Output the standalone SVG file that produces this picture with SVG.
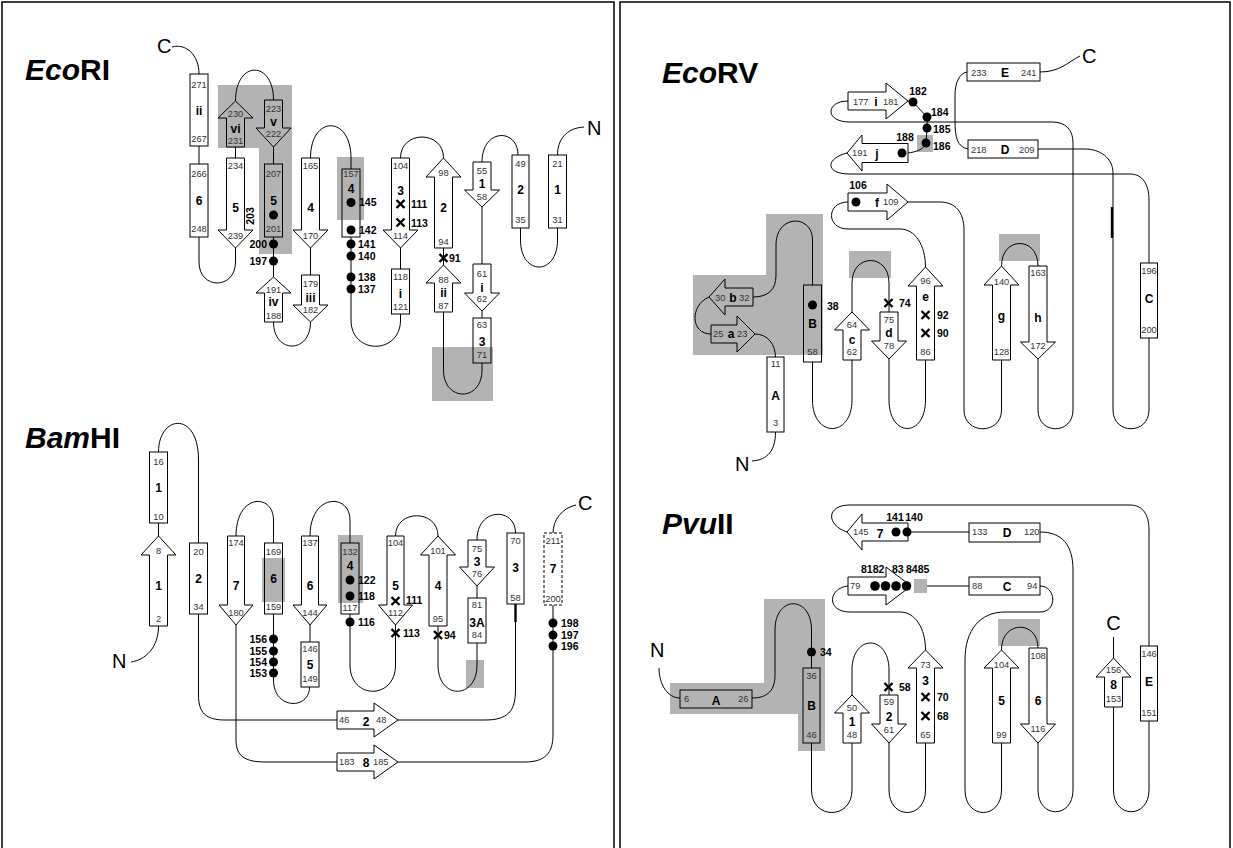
<svg xmlns="http://www.w3.org/2000/svg" xmlns:xlink="http://www.w3.org/1999/xlink" width="1233" height="848" viewBox="0 0 1233 848">
<style>
text{font-family:"Liberation Sans",Arial,sans-serif}
.n{font-size:9.3px;fill:#333;text-anchor:middle}
.ns{font-size:9.3px;fill:#333}
.s{font-size:12px;font-weight:bold;text-anchor:middle}
.r{font-size:10.5px;font-weight:bold}
.re{font-size:10.5px;font-weight:bold;text-anchor:end}
.rm{font-size:10.5px;font-weight:bold;text-anchor:middle}
.t{font-size:30px;font-weight:bold}
.big{font-size:20px}
.sh{fill:none;stroke:#000;stroke-width:1}
.dash{fill:none;stroke:#000;stroke-width:1;stroke-dasharray:3,2}
.c{fill:none;stroke:#000;stroke-width:1}
.ck{fill:none;stroke:#000;stroke-width:2.4}
.hl{fill:#b3b3b3}
.d{fill:#000}
.frame{fill:none;stroke:#000;stroke-width:1.5}
</style>
<defs>
<path id="xm" d="M-4,-4L4,4M-4,4L4,-4" stroke="#000" stroke-width="2.4" fill="none"/>
</defs>
<rect width="1233" height="848" fill="#fff"/>
<g id="frames">
<rect class="frame" x="2" y="2" width="612" height="860"/>
<rect class="frame" x="620" y="2" width="610" height="860"/>
</g>

<!-- ================= EcoRI ================= -->
<g id="ecori-highlights">
<polygon class="hl" points="218,85 292,85 292,254 259,254 259,148 218,148"/>
<rect class="hl" x="337" y="157" width="27" height="63"/>
<rect class="hl" x="432" y="347" width="61" height="54"/>
</g>
<text class="t" x="25" y="80"><tspan font-style="italic">Eco</tspan>RI</text>
<text class="big" x="157" y="53">C</text>
<text class="big" x="587" y="135">N</text>
<g id="ecori-connectors">
<path class="c" d="M172,47 C186,43 199,55 199,74"/>
<path class="c" d="M199,146 L199,164"/>
<path class="c" d="M199,237 L199,262 C199,290 235.5,290 235.5,262 L235.5,248"/>
<path class="c" d="M235.5,147 L235.5,158"/>
<path class="c" d="M235.5,101 C235.5,60 273.5,60 273.5,100"/>
<path class="c" d="M273.5,147 L273.5,164"/>
<path class="c" d="M273.5,237 L273.5,277"/>
<path class="c" d="M273.5,322 C273.5,354 310.5,354 310.5,322"/>
<path class="c" d="M310.5,248 L310.5,275"/>
<path class="c" d="M310.5,158 C310.5,115 351,115 351,158 L351,169"/>
<path class="c" d="M351,237 L351,320 C351,355 400.5,355 400.5,320 L400.5,314"/>
<path class="c" d="M400.5,248 L400.5,269"/>
<path class="c" d="M400.5,158 C400.5,130 443.5,130 443.5,158"/>
<path class="c" d="M443.5,248 L443.5,265"/>
<path class="c" d="M443.5,312 L443.5,370 C443.5,402 482,402 482,370 L482,363"/>
<path class="c" d="M482,311 L482,318"/>
<path class="c" d="M482,207 L482,264"/>
<path class="c" d="M482,162 C482,128 518,128 518,155"/>
<path class="c" d="M520.5,228 L520.5,240 C520.5,276 557.5,276 557.5,240 L557.5,228"/>
<path class="c" d="M584,127 C566,128 557.5,140 557.5,155"/>
</g>
<g id="ecori-ii"><rect class="sh" x="190" y="74" width="18" height="72"/><text class="n" x="199" y="88">271</text><text class="s" x="199" y="115">ii</text><text class="n" x="199" y="142">267</text></g>
<g id="ecori-6"><rect class="sh" x="190" y="164" width="18" height="73"/><text class="n" x="199" y="177">266</text><text class="s" x="199" y="205">6</text><text class="n" x="199" y="232">248</text></g>
<g id="ecori-vi"><path class="sh" d="M235.5,101 L253,118 L244.5,118 L244.5,147 L226.5,147 L226.5,118 L218,118 Z"/><text class="n" x="235.5" y="117">230</text><text class="s" x="235.5" y="133">vi</text><text class="n" x="235.5" y="144">231</text></g>
<g id="ecori-v"><path class="sh" d="M264.5,100 L282.5,100 L282.5,128 L291,128 L273.5,147 L256,128 L264.5,128 Z"/><text class="n" x="273.5" y="112">223</text><text class="s" x="273.5" y="126">v</text><text class="n" x="273.5" y="137">222</text></g>
<g id="ecori-5a"><path class="sh" d="M226.5,158 L244.5,158 L244.5,230 L253,230 L235.5,248 L218,230 L226.5,230 Z"/><text class="n" x="235.5" y="169">234</text><text class="s" x="235.5" y="212">5</text><text class="n" x="235.5" y="239">239</text><text class="rm" x="254" y="216" transform="rotate(-90 254 216)">203</text></g>
<g id="ecori-5b"><rect class="sh" x="264.5" y="164" width="18" height="73"/><text class="n" x="273.5" y="177">207</text><text class="s" x="273.5" y="205">5</text><circle class="d" cx="273.5" cy="215" r="4.5"/><text class="n" x="273.5" y="232">201</text><circle class="d" cx="273.5" cy="244" r="4.5"/><circle class="d" cx="273.5" cy="261" r="4.5"/><text class="re" x="267" y="248">200</text><text class="re" x="267" y="265">197</text></g>
<g id="ecori-iv"><path class="sh" d="M273.5,277 L291,293 L282.5,293 L282.5,322 L264.5,322 L264.5,293 L256,293 Z"/><text class="n" x="273.5" y="293">191</text><text class="s" x="273.5" y="306">iv</text><text class="n" x="273.5" y="319">188</text></g>
<g id="ecori-iii"><path class="sh" d="M301.5,275 L319.5,275 L319.5,305 L328,305 L310.5,322 L293,305 L301.5,305 Z"/><text class="n" x="310.5" y="287">179</text><text class="s" x="310.5" y="302">iii</text><text class="n" x="310.5" y="313">182</text></g>
<g id="ecori-4a"><path class="sh" d="M301.5,158 L319.5,158 L319.5,230 L328,230 L310.5,248 L293,230 L301.5,230 Z"/><text class="n" x="310.5" y="169">165</text><text class="s" x="310.5" y="212">4</text><text class="n" x="310.5" y="239">170</text></g>
<g id="ecori-4b"><rect class="sh" x="342" y="169" width="18" height="68"/><text class="n" x="351" y="177">157</text><text class="s" x="351" y="193">4</text><circle class="d" cx="351" cy="202.5" r="4.5"/><text class="r" x="359" y="206">145</text><circle class="d" cx="351" cy="230" r="4.5"/><text class="r" x="359" y="234">142</text>
<circle class="d" cx="351" cy="244" r="4.5"/><circle class="d" cx="351" cy="256" r="4.5"/><circle class="d" cx="351" cy="277" r="4.5"/><circle class="d" cx="351" cy="289" r="4.5"/>
<text class="r" x="358" y="248">141</text><text class="r" x="358" y="260">140</text><text class="r" x="358" y="281">138</text><text class="r" x="358" y="293">137</text></g>
<g id="ecori-i"><rect class="sh" x="391.5" y="269" width="18" height="45"/><text class="n" x="400.5" y="280">118</text><text class="s" x="400.5" y="298">i</text><text class="n" x="400.5" y="310">121</text></g>
<g id="ecori-3a"><path class="sh" d="M391.5,158 L409.5,158 L409.5,230 L418,230 L400.5,248 L383,230 L391.5,230 Z"/><text class="n" x="400.5" y="169">104</text><text class="s" x="400.5" y="195">3</text><use xlink:href="#xm" x="400.5" y="204"/><text class="r" x="411" y="208">111</text><use xlink:href="#xm" x="400.5" y="222.5"/><text class="r" x="411" y="227">113</text><text class="n" x="400.5" y="239">114</text></g>
<g id="ecori-2a"><path class="sh" d="M443.5,158 L461,177 L452.5,177 L452.5,248 L434.5,248 L434.5,177 L426,177 Z"/><text class="n" x="443.5" y="176">98</text><text class="s" x="443.5" y="212">2</text><text class="n" x="443.5" y="245">94</text><use xlink:href="#xm" x="443.5" y="258"/><text class="r" x="449" y="262">91</text></g>
<g id="ecori-ii2"><path class="sh" d="M443.5,265 L461,283 L452.5,283 L452.5,312 L434.5,312 L434.5,283 L426,283 Z"/><text class="n" x="443.5" y="283">88</text><text class="s" x="443.5" y="297">ii</text><text class="n" x="443.5" y="309">87</text></g>
<g id="ecori-3b"><rect class="sh" x="473" y="318" width="18" height="45"/><text class="n" x="482" y="328">63</text><text class="s" x="482" y="346">3</text><text class="n" x="482" y="358">71</text></g>
<g id="ecori-i2"><path class="sh" d="M473,264 L491,264 L491,293 L499.5,293 L482,311 L464.5,293 L473,293 Z"/><text class="n" x="482" y="277">61</text><text class="s" x="482" y="292">i</text><text class="n" x="482" y="302">62</text></g>
<g id="ecori-1a"><path class="sh" d="M473,162 L491,162 L491,190 L499.5,190 L482,207 L464.5,190 L473,190 Z"/><text class="n" x="482" y="174">55</text><text class="s" x="482" y="188">1</text><text class="n" x="482" y="200">58</text></g>
<g id="ecori-2b"><rect class="sh" x="512" y="155" width="17" height="73"/><text class="n" x="520.5" y="167">49</text><text class="s" x="520.5" y="194">2</text><text class="n" x="520.5" y="223">35</text></g>
<g id="ecori-1b"><rect class="sh" x="548.5" y="155" width="18" height="73"/><text class="n" x="557.5" y="167">21</text><text class="s" x="557.5" y="194">1</text><text class="n" x="557.5" y="223">31</text></g>

<!-- ================= BamHI ================= -->
<g id="bam-highlights">
<rect class="hl" x="262" y="558" width="23" height="44"/>
<rect class="hl" x="338" y="535" width="25" height="68"/>
<rect class="hl" x="466" y="660" width="18" height="28"/>
</g>
<text class="t" x="25" y="448"><tspan font-style="italic">Bam</tspan>HI</text>
<text class="big" x="112" y="668">N</text>
<text class="big" x="578" y="510">C</text>
<g id="bam-connectors">
<path class="c" d="M158.5,452 C158.5,415 198.5,410 198.5,460 L198.5,543"/>
<path class="c" d="M158.5,523 L158.5,536"/>
<path class="c" d="M158.5,626 C158.5,648 145,660 131,662"/>
<path class="c" d="M198.5,614 L198.5,695 C198.5,713 206,720 225,720 L337,720"/>
<path class="c" d="M236,536 C236,493 273.5,493 273.5,520 L273.5,543"/>
<path class="c" d="M236,625 L236,740 C236,756 245,762 265,762 L337,762"/>
<path class="c" d="M273.5,614 L273.5,680 C273.5,710 309.5,710 309.5,687"/>
<path class="c" d="M310,625 L310,642"/>
<path class="c" d="M310,536 C310,493 350,493 350,520 L350,543"/>
<path class="c" d="M350,614 L350,665 C350,700 395.5,700 395.5,665 L395.5,625"/>
<path class="c" d="M395.5,536 C395.5,509 438,509 438,536"/>
<path class="c" d="M438,626 L438,665 C438,700 477,700 477,665 L477,643"/>
<path class="c" d="M477,586 L477,598"/>
<path class="c" d="M477,540 C477,507 515.5,507 515.5,533"/>
<path class="c" d="M515.5,604 L515.5,690 C515.5,712 507,720 485,720 L398,720"/>
<path class="ck" d="M515.5,604 L515.5,622"/>
<path class="c" d="M553,605 L553,735 C553,753 545,762 525,762 L398,762"/>
<path class="c" d="M576,505 C562,508 553,520 553,533"/>
</g>
<g id="bam-1box"><rect class="sh" x="149.5" y="452" width="18" height="71"/><text class="n" x="158.5" y="465">16</text><text class="s" x="158.5" y="492">1</text><text class="n" x="158.5" y="520">10</text></g>
<g id="bam-1arrow"><path class="sh" d="M158.5,536 L176,555 L167.5,555 L167.5,626 L149.5,626 L149.5,555 L141,555 Z"/><text class="n" x="158.5" y="554">8</text><text class="s" x="158.5" y="590">1</text><text class="n" x="158.5" y="622">2</text></g>
<g id="bam-2box"><rect class="sh" x="189.5" y="543" width="18" height="71"/><text class="n" x="198.5" y="555">20</text><text class="s" x="198.5" y="583">2</text><text class="n" x="198.5" y="610">34</text></g>
<g id="bam-7arrow"><path class="sh" d="M227.5,536 L244.5,536 L244.5,605 L253,605 L236,625 L219,605 L227.5,605 Z"/><text class="n" x="236" y="546">174</text><text class="s" x="236" y="590">7</text><text class="n" x="236" y="616">180</text></g>
<g id="bam-6box"><rect class="sh" x="264.5" y="543" width="18" height="71"/><text class="n" x="273.5" y="555">169</text><text class="s" x="273.5" y="583">6</text><text class="n" x="273.5" y="610">159</text>
<circle class="d" cx="273.5" cy="639" r="4.5"/><circle class="d" cx="273.5" cy="651" r="4.5"/><circle class="d" cx="273.5" cy="662" r="4.5"/><circle class="d" cx="273.5" cy="673" r="4.5"/>
<text class="re" x="267" y="643">156</text><text class="re" x="267" y="655">155</text><text class="re" x="267" y="666">154</text><text class="re" x="267" y="677">153</text></g>
<g id="bam-6arrow"><path class="sh" d="M301.5,536 L318.5,536 L318.5,605 L327,605 L310,625 L293,605 L301.5,605 Z"/><text class="n" x="310" y="546">137</text><text class="s" x="310" y="590">6</text><text class="n" x="310" y="616">144</text></g>
<g id="bam-5box"><rect class="sh" x="301" y="642" width="18" height="45"/><text class="n" x="310" y="652">146</text><text class="s" x="310" y="669">5</text><text class="n" x="310" y="682">149</text></g>
<g id="bam-4box"><rect class="sh" x="341" y="543" width="18" height="71"/><text class="n" x="350" y="555">132</text><text class="s" x="350" y="570">4</text><circle class="d" cx="350" cy="580" r="4.5"/><text class="r" x="358" y="584">122</text><circle class="d" cx="350" cy="596" r="4.5"/><text class="r" x="358" y="600">118</text><text class="n" x="350" y="611">117</text><circle class="d" cx="350" cy="622" r="4.5"/><text class="r" x="358" y="626">116</text></g>
<g id="bam-5arrow"><path class="sh" d="M387,536 L404,536 L404,605 L412.5,605 L395.5,625 L378.5,605 L387,605 Z"/><text class="n" x="395.5" y="546">104</text><text class="s" x="395.5" y="590">5</text><use xlink:href="#xm" x="395.5" y="601"/><text class="r" x="406" y="604">111</text><text class="n" x="395.5" y="616">112</text><use xlink:href="#xm" x="395.5" y="633"/><text class="r" x="403" y="637">113</text></g>
<g id="bam-4arrow"><path class="sh" d="M438,536 L455.5,555 L447,555 L447,626 L429,626 L429,555 L420.5,555 Z"/><text class="n" x="438" y="554">101</text><text class="s" x="438" y="590">4</text><text class="n" x="438" y="622">95</text><use xlink:href="#xm" x="438" y="635"/><text class="r" x="444" y="639">94</text></g>
<g id="bam-3arrow"><path class="sh" d="M468,540 L486,540 L486,567 L494.5,567 L477,586 L459.5,567 L468,567 Z"/><text class="n" x="477" y="552">75</text><text class="s" x="477" y="566">3</text><text class="n" x="477" y="577">76</text></g>
<g id="bam-3A"><rect class="sh" x="468" y="598" width="18" height="45"/><text class="n" x="477" y="608">81</text><text class="s" x="477" y="627">3A</text><text class="n" x="477" y="638">84</text></g>
<g id="bam-3box"><rect class="sh" x="507" y="533" width="17" height="71"/><text class="n" x="515.5" y="544">70</text><text class="s" x="515.5" y="572">3</text><text class="n" x="515.5" y="601">58</text></g>
<g id="bam-7box"><rect class="dash" x="544" y="533" width="18" height="72"/><text class="n" x="553" y="544">211</text><text class="s" x="553" y="573">7</text><text class="n" x="553" y="602">200</text>
<circle class="d" cx="553" cy="623" r="4.5"/><circle class="d" cx="553" cy="635" r="4.5"/><circle class="d" cx="553" cy="646" r="4.5"/>
<text class="r" x="561" y="627">198</text><text class="r" x="561" y="639">197</text><text class="r" x="561" y="650">196</text></g>
<g id="bam-2arrow"><path class="sh" d="M337,711 L374,711 L374,703 L398,720 L374,737 L374,729 L337,729 Z"/><text class="ns" x="339" y="723">46</text><text class="s" x="366" y="726">2</text><text class="ns" x="376" y="723">48</text></g>
<g id="bam-8arrow"><path class="sh" d="M337,753 L374,753 L374,745 L398,762 L374,779 L374,771 L337,771 Z"/><text class="ns" x="339" y="765">183</text><text class="s" x="366" y="767">8</text><text class="ns" x="373" y="765">185</text></g>

<!-- ================= EcoRV ================= -->
<g id="ecorv-highlights">
<rect class="hl" x="917" y="135" width="16" height="17"/>
<polygon class="hl" points="766,214 823,214 823,355 693,355 693,275 766,275"/>
<rect class="hl" x="849" y="251" width="42" height="27"/>
<rect class="hl" x="999" y="234" width="41" height="27"/>
</g>
<text class="t" x="662" y="83"><tspan font-style="italic">Eco</tspan>RV</text>
<text class="big" x="1082" y="63">C</text>
<text class="big" x="735" y="471">N</text>
<g id="ecorv-connectors">
<path class="c" d="M908,101 L913,102 L927,117 L927,128 L926,143 C924,150 915,152 908,153"/>
<path class="c" d="M1038,359 L1038,410 C1038,435 1073,435 1073,410 L1073,143 C1073,130 1066,122 1052,122 L850,122 C824,122 826,101 848,101"/>
<path class="c" d="M847,153 C826,158 824,174 850,174 L1130,174 C1143,174 1149,185 1149,200 L1149,263"/>
<path class="c" d="M1149,338 L1149,410 C1149,435 1113,435 1113,410 L1113,173 C1113,158 1100,149 1085,149 L1038,149"/>
<path class="ck" d="M1112,207 L1112,238"/>
<path class="c" d="M968,149 C957,147 955,137 955,120 L955,95 C955,82 960,73 967,72"/>
<path class="c" d="M1040,72 C1060,72 1068,62 1080,56"/>
<path class="c" d="M1001.5,360 L1001.5,410 C1001.5,435 964,435 964,410 L964,230 C964,212 955,202 940,202 L908,202"/>
<path class="c" d="M848,202 C826,202 826,229 848,229 L900,229 C915,229 925.5,245 925.5,267"/>
<path class="c" d="M925.5,360 L925.5,400 C925.5,438 889,438 889,400 L889,359"/>
<path class="c" d="M889,312 L889,283 C889,253 852,253 852,283 L852,312"/>
<path class="c" d="M852,360 L852,400 C852,438 812.5,438 812.5,400 L812.5,362"/>
<path class="c" d="M812.5,285 L812.5,240 C812.5,214 776,214 776,245 L776,275 C776,290 768,297 753,297"/>
<path class="c" d="M709,297 C690,305 690,334 711,334"/>
<path class="c" d="M755,334 C768,334 775.5,345 775.5,357"/>
<path class="c" d="M775.5,432 C775.5,450 768,460 752,461"/>
<path class="c" d="M1001.5,266 C1001.5,236 1038,236 1038,266"/>
</g>
<g id="ecorv-i"><path class="sh" d="M848,92 L886,92 L886,83 L908,101 L886,119 L886,110 L848,110 Z"/><text class="ns" x="853" y="105">177</text><text class="s" x="876" y="106">i</text><text class="ns" x="883" y="105">181</text></g>
<g id="ecorv-dots"><circle class="d" cx="913" cy="102" r="4.5"/><text class="rm" x="918" y="95">182</text><circle class="d" cx="927" cy="117" r="4.5"/><text class="r" x="931" y="116">184</text><circle class="d" cx="927" cy="128" r="4.5"/><text class="r" x="933" y="133">185</text><circle class="d" cx="926" cy="143" r="4.5"/><text class="r" x="933" y="150">186</text></g>
<g id="ecorv-j"><path class="sh" d="M908,143.5 L862,143.5 L862,135 L847,153 L862,171 L862,162.5 L908,162.5 Z"/><text class="ns" x="852" y="156">191</text><text class="s" x="877" y="158">j</text><circle class="d" cx="902" cy="153" r="4.5"/><text class="rm" x="905" y="141">188</text></g>
<g id="ecorv-E"><rect class="sh" x="967" y="63" width="73" height="18"/><text class="ns" x="971" y="76">233</text><text class="s" x="1005" y="77">E</text><text class="ns" x="1021" y="76">241</text></g>
<g id="ecorv-D"><rect class="sh" x="968" y="140" width="70" height="18"/><text class="ns" x="971" y="153">218</text><text class="s" x="1005" y="154">D</text><text class="ns" x="1019" y="153">209</text></g>
<g id="ecorv-C"><rect class="sh" x="1140.5" y="263" width="17" height="75"/><text class="n" x="1149" y="274">196</text><text class="s" x="1149" y="303">C</text><text class="n" x="1149" y="333">200</text></g>
<g id="ecorv-f"><path class="sh" d="M848,193 L887,193 L887,184 L908,202 L887,220 L887,211 L848,211 Z"/><circle class="d" cx="856" cy="202" r="4.5"/><text class="rm" x="858" y="189">106</text><text class="s" x="877" y="207">f</text><text class="ns" x="883" y="205">109</text></g>
<g id="ecorv-e"><path class="sh" d="M925.5,267 L943,286 L934.5,286 L934.5,360 L916.5,360 L916.5,286 L908,286 Z"/><text class="n" x="925.5" y="284">96</text><text class="s" x="925.5" y="301">e</text><use xlink:href="#xm" x="925.5" y="315"/><text class="r" x="937" y="319">92</text><use xlink:href="#xm" x="925.5" y="333"/><text class="r" x="937" y="337">90</text><text class="n" x="925.5" y="355">86</text></g>
<g id="ecorv-d"><path class="sh" d="M880,312 L898,312 L898,341 L906.5,341 L889,359 L871.5,341 L880,341 Z"/><use xlink:href="#xm" x="888.5" y="303"/><text class="r" x="899" y="307">74</text><text class="n" x="889" y="323">75</text><text class="s" x="889" y="337">d</text><text class="n" x="889" y="349">78</text></g>
<g id="ecorv-c"><path class="sh" d="M852,312 L869.5,330 L861,330 L861,360 L843,360 L843,330 L834.5,330 Z"/><text class="n" x="852" y="328">64</text><text class="s" x="852" y="344">c</text><text class="n" x="852" y="355">62</text></g>
<g id="ecorv-B"><rect class="sh" x="803.5" y="285" width="18" height="77"/><circle class="d" cx="812.5" cy="305" r="4.5"/><text class="r" x="827" y="310">38</text><text class="s" x="812.5" y="328">B</text><text class="n" x="812.5" y="355">58</text></g>
<g id="ecorv-b"><path class="sh" d="M753,288 L725,288 L725,279 L709,297 L725,315 L725,306 L753,306 Z"/><text class="ns" x="715" y="301">30</text><text class="s" x="733" y="302">b</text><text class="ns" x="739" y="301">32</text></g>
<g id="ecorv-a"><path class="sh" d="M711,325 L737,325 L737,316 L755,334 L737,352 L737,343 L711,343 Z"/><text class="ns" x="713" y="337">25</text><text class="s" x="731" y="338">a</text><text class="ns" x="737" y="337">23</text></g>
<g id="ecorv-A"><rect class="sh" x="767" y="357" width="17" height="75"/><text class="n" x="775.5" y="367">11</text><text class="s" x="775.5" y="400">A</text><text class="n" x="775.5" y="426">3</text></g>
<g id="ecorv-g"><path class="sh" d="M1001.5,266 L1019,285 L1010.5,285 L1010.5,360 L992.5,360 L992.5,285 L984,285 Z"/><text class="n" x="1001.5" y="285">140</text><text class="s" x="1001.5" y="320">g</text><text class="n" x="1001.5" y="355">128</text></g>
<g id="ecorv-h"><path class="sh" d="M1029,266 L1047,266 L1047,342 L1055.5,342 L1038,359 L1020.5,342 L1029,342 Z"/><text class="n" x="1038" y="276">163</text><text class="s" x="1038" y="322">h</text><text class="n" x="1038" y="349">172</text></g>

<!-- ================= PvuII ================= -->
<g id="pvu-highlights">
<polygon class="hl" points="764,599 825,599 825,751 798,751 798,714 670,714 670,683 764,683"/>
<rect class="hl" x="914" y="579" width="13" height="14"/>
<rect class="hl" x="998" y="619" width="42" height="27"/>
</g>
<text class="t" x="662" y="534"><tspan font-style="italic">Pvu</tspan>II</text>
<text class="big" x="650" y="657">N</text>
<text class="big" x="1113.5" y="630" text-anchor="middle">C</text>
<g id="pvu-connectors">
<path class="c" d="M847,532 C826,525 826,505 850,505 L1130,505 C1143,505 1149,515 1149,530 L1149,646"/>
<path class="c" d="M907,532 L969,532"/>
<path class="c" d="M1040,532 C1062,532 1073,545 1073,570 L1073,790 C1073,819 1038,819 1038,790 L1038,743"/>
<path class="c" d="M1149,721 L1149,790 C1149,819 1113.5,819 1113.5,790 L1113.5,707"/>
<path class="c" d="M1113.5,637 L1113.5,658"/>
<path class="c" d="M927,586 L969,586"/>
<path class="c" d="M1040,586 C1056,586 1058,612 1040,612 L1005,612 C980,612 965,630 965,660 L965,790 C965,820 1001.5,820 1001.5,790 L1001.5,743"/>
<path class="c" d="M925.5,650 C925.5,628 915,612 900,612 L850,612 C826,612 828,588 848,586"/>
<path class="c" d="M925.5,743 L925.5,790 C925.5,820 889,820 889,790 L889,743"/>
<path class="c" d="M889,695 L889,670 C889,634 852,634 852,670 L852,695"/>
<path class="c" d="M852,743 L852,790 C852,820 811.5,820 811.5,790 L811.5,743"/>
<path class="c" d="M811.5,668 L811.5,630 C811.5,595 775,595 775,630 L775,675 C775,690 768,698 752,698"/>
<path class="c" d="M659,668 C659,685 668,698 680,698"/>
<path class="c" d="M1001.5,650 C1001.5,620 1038,620 1038,648"/>
</g>
<g id="pvu-7"><path class="sh" d="M908,523 L862,523 L862,514 L847,532 L862,550 L862,541 L908,541 Z"/><text class="ns" x="853" y="535">145</text><text class="s" x="880" y="538">7</text><circle class="d" cx="896" cy="532" r="4.5"/><circle class="d" cx="907" cy="532" r="4.5"/><text class="rm" x="895" y="521">141</text><text class="rm" x="914" y="521">140</text></g>
<g id="pvu-D"><rect class="sh" x="969" y="523" width="71" height="19"/><text class="ns" x="972" y="535">133</text><text class="s" x="1007" y="537">D</text><text class="ns" x="1024" y="535">120</text></g>
<g id="pvu-4"><path class="sh" d="M848,577 L886,577 L886,567 L911,586 L886,605 L886,595 L848,595 Z"/><text class="ns" x="850" y="589">79</text><circle class="d" cx="875" cy="586" r="4.8"/><circle class="d" cx="885.5" cy="586" r="4.8"/><circle class="d" cx="896" cy="586" r="4.8"/><circle class="d" cx="906.5" cy="586" r="4.8"/><text class="r" x="861" y="573">8182</text><text class="r" x="892" y="573">83</text><text class="r" x="906" y="573">8485</text></g>
<g id="pvu-C"><rect class="sh" x="969" y="577" width="71" height="18"/><text class="ns" x="972" y="589">88</text><text class="s" x="1007" y="591">C</text><text class="ns" x="1027" y="589">94</text></g>
<g id="pvu-A"><rect class="sh" x="680" y="690" width="72" height="18"/><text class="ns" x="684" y="702">6</text><text class="s" x="716" y="705">A</text><text class="ns" x="738" y="702">26</text></g>
<g id="pvu-B"><rect class="sh" x="803" y="668" width="17" height="75"/><circle class="d" cx="811.5" cy="652" r="4.5"/><text class="r" x="820" y="656">34</text><text class="n" x="811.5" y="679">36</text><text class="s" x="811.5" y="710">B</text><text class="n" x="811.5" y="738">46</text></g>
<g id="pvu-1"><path class="sh" d="M852,695 L869.5,713 L861,713 L861,743 L843,743 L843,713 L834.5,713 Z"/><text class="n" x="852" y="711">50</text><text class="s" x="852" y="726">1</text><text class="n" x="852" y="738">48</text></g>
<g id="pvu-2"><path class="sh" d="M880,695 L898,695 L898,724 L906.5,724 L889,743 L871.5,724 L880,724 Z"/><use xlink:href="#xm" x="888.5" y="687"/><text class="r" x="899" y="691">58</text><text class="n" x="889" y="705">59</text><text class="s" x="889" y="721">2</text><text class="n" x="889" y="733">61</text></g>
<g id="pvu-3"><path class="sh" d="M925.5,650 L943,668 L934.5,668 L934.5,743 L916.5,743 L916.5,668 L908,668 Z"/><text class="n" x="925.5" y="668">73</text><text class="s" x="925.5" y="685">3</text><use xlink:href="#xm" x="925.5" y="697"/><text class="r" x="937" y="701">70</text><use xlink:href="#xm" x="925.5" y="716"/><text class="r" x="937" y="720">68</text><text class="n" x="925.5" y="738">65</text></g>
<g id="pvu-5"><path class="sh" d="M1001.5,650 L1019,668 L1010.5,668 L1010.5,743 L992.5,743 L992.5,668 L984,668 Z"/><text class="n" x="1001.5" y="668">104</text><text class="s" x="1001.5" y="705">5</text><text class="n" x="1001.5" y="738">99</text></g>
<g id="pvu-6"><path class="sh" d="M1029,648 L1047,648 L1047,724 L1055.5,724 L1038,743 L1020.5,724 L1029,724 Z"/><text class="n" x="1038" y="659">108</text><text class="s" x="1038" y="705">6</text><text class="n" x="1038" y="732">116</text></g>
<g id="pvu-E"><rect class="sh" x="1140.5" y="646" width="17" height="75"/><text class="n" x="1149" y="657">146</text><text class="s" x="1149" y="686">E</text><text class="n" x="1149" y="716">151</text></g>
<g id="pvu-8"><path class="sh" d="M1113.5,658 L1131,677 L1122.5,677 L1122.5,707 L1104.5,707 L1104.5,677 L1096,677 Z"/><text class="n" x="1113.5" y="673">156</text><text class="s" x="1113.5" y="689">8</text><text class="n" x="1113.5" y="702">153</text></g>
</svg>
